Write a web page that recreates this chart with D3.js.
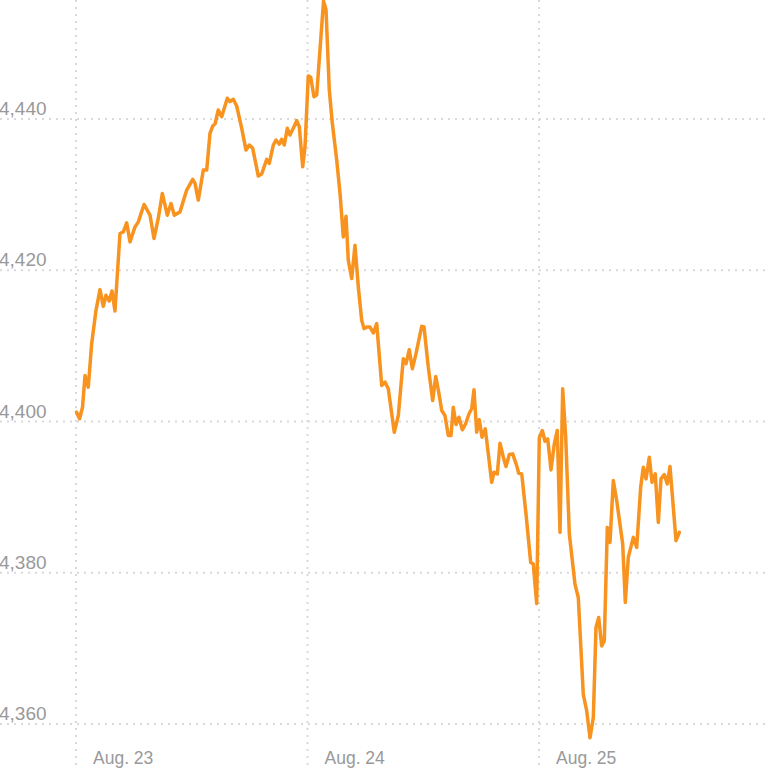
<!DOCTYPE html>
<html>
<head>
<meta charset="utf-8">
<script src="https://cdn.jsdelivr.net/npm/d3@7"></script>
<style>
  html, body { margin: 0; padding: 0; background: #fff; }
  svg { display: block; }
  .tick-label { font-family: "Liberation Sans", "Noto Sans", sans-serif; fill: #999; }
</style>
</head>
<body>
<svg id="chart" width="768" height="768"></svg>
<script>
// Trading minutes since Aug. 23 open (390 minutes per session)
const minutes = [1,6,11,15.2,20.7,26.4,33.7,40.4,46,50.5,56.1,60.6,65.7,74.1,79.7,85.4,91,99.4,105,114.6,
  124.7,131.4,138.6,145.4,153.8,160,165.6,175.2,186.5,196.6,200.5,206,214.5,220.2,225.7,230.3,234.2,239.7,245.5,254.9,
  259.4,265,270.7,279.2,286.4,292,297.7,307.1,312.8,321.3,325.6,332.4,336.9,342.5,346.5,350.9,356,360.5,366.1,371.8,
  376.2,381.9,385.8,391.3,395.4,400.9,405.5,417,421.2,426.7,431.8,439.2,444.8,450.3,454.9,458.7,464.5,470,475.6,481.3,
  485.2,489.7,495.3,500.9,506.6,515,520.6,526.1,536.2,543,551.4,556,561.5,566.6,572.8,582.4,586.3,593.5,600.9,606,
  611.5,616.1,621.6,627.2,631.8,635.6,640.2,645.2,650.8,656.5,662.1,666.6,670.5,675,679.4,684,689.5,694.6,700.3,704.2,
  709.8,714.3,719.9,724.4,730,735.7,742.4,745.8,750.9,758.1,766,770.4,776.1,780.5,785.6,790.1,794.7,800.2,805.8,810.8,
  815.4,819.9,825,831.1,840.6,846.2,854.6,860.4,865.9,871.5,876,880.6,885.6,890,895.1,899.6,905.2,910.9,921,925.4,
  930.4,938.9,944.6,951.3,955.7,960.3,965.8,970.4,975.9,981,985.5,991.1,996.1,1000.7,1010.8,1016.4];
const prices = [4401.23,4400.36,4401.89,4406.09,4404.54,4410.29,4414.70,4417.44,4415.23,4416.69,4415.93,4417.26,4414.61,4424.86,4425.07,4426.26,4423.75,4425.73,4426.40,4428.70,
  4427.28,4424.20,4426.85,4430.16,4427.28,4428.83,4427.28,4427.72,4430.60,4432.01,4431.48,4429.27,4433.25,4433.25,4438.11,4439.07,4439.34,4441.19,4440.30,4442.74,
  4442.29,4442.61,4441.72,4438.77,4435.89,4436.56,4436.12,4432.45,4432.72,4434.66,4434.13,4436.56,4437.22,4436.69,4437.31,4436.56,4438.77,4437.88,4438.77,4439.78,
  4438.98,4433.68,4436.33,4445.70,4445.52,4442.95,4443.18,4455.6,4454.44,4443.84,4439.47,4434.57,4430.16,4424.41,4427.15,4421.32,4418.90,4423.31,4417.79,4413.38,
  4412.28,4412.49,4412.49,4411.70,4412.94,4404.77,4405.21,4404.33,4398.58,4400.79,4408.30,4407.64,4409.50,4406.98,4408.97,4412.58,4412.49,4407.19,4402.78,4405.96,
  4403.67,4401.46,4400.79,4398.15,4398.15,4401.89,4399.60,4400.57,4398.90,4399.70,4401.02,4401.68,4404.20,4398.58,4400.23,4397.92,4399.03,4395.72,4391.96,4393.28,
  4393.07,4397.13,4395.27,4394.04,4395.63,4395.72,4394.17,4393.15,4393.07,4387.77,4381.36,4381.15,4375.93,4397.84,4398.81,4397.39,4397.71,4393.60,4397.05,4398.81,
  4385.34,4404.33,4397.92,4385.13,4378.50,4376.73,4363.93,4361.72,4358.19,4360.83,4372.75,4374.08,4370.33,4370.99,4386.00,4384.01,4392.19,4389.54,4383.80,4376.07,
  4382.03,4384.68,4383.35,4391.30,4393.95,4392.41,4395.27,4391.96,4393.07,4386.66,4392.41,4392.98,4391.75,4394.04,4384.24,4385.34];

const yTicks = [4360, 4380, 4400, 4420, 4440];
const dayStarts = [0, 390, 780];
const dayLabels = ["Aug. 23", "Aug. 24", "Aug. 25"];

const W = 768, H = 768;
const svg = d3.select("#chart");

const x = d3.scaleLinear().domain([0, 1170]).range([76, 770.5]);
const y = d3.scaleLinear().domain([4360, 4440]).range([724, 119]);

const data = minutes.map((m, i) => ({ m, v: prices[i] }));

// horizontal grid
svg.append("g").selectAll("line").data(yTicks).join("line")
  .attr("x1", 0).attr("x2", W)
  .attr("y1", d => y(d)).attr("y2", d => y(d))
  .attr("stroke", "#d9d9d9").attr("stroke-width", 2)
  .attr("stroke-dasharray", "2,5");

// vertical grid
svg.append("g").selectAll("line").data(dayStarts).join("line")
  .attr("x1", d => x(d)).attr("x2", d => x(d))
  .attr("y1", 0).attr("y2", H)
  .attr("stroke", "#d9d9d9").attr("stroke-width", 2)
  .attr("stroke-dasharray", "2,5");

// y labels
svg.append("g").selectAll("text").data(yTicks).join("text")
  .attr("class", "tick-label")
  .attr("x", -1).attr("y", d => y(d) - 4)
  .attr("font-size", 19)
  .text(d => d3.format(",")(d));

// x labels
svg.append("g").selectAll("text").data(dayStarts).join("text")
  .attr("class", "tick-label")
  .attr("x", d => x(d) + 17).attr("y", 764)
  .attr("font-size", 17.5)
  .text((d, i) => dayLabels[i]);

// line
const line = d3.line().x(d => x(d.m)).y(d => y(d.v)).curve(d3.curveLinear);
svg.append("path").datum(data)
  .attr("d", line)
  .attr("fill", "none")
  .attr("stroke", "#f7931e")
  .attr("stroke-width", 3.5)
  .attr("stroke-linejoin", "round")
  .attr("stroke-linecap", "round");
</script>
</body>
</html>
